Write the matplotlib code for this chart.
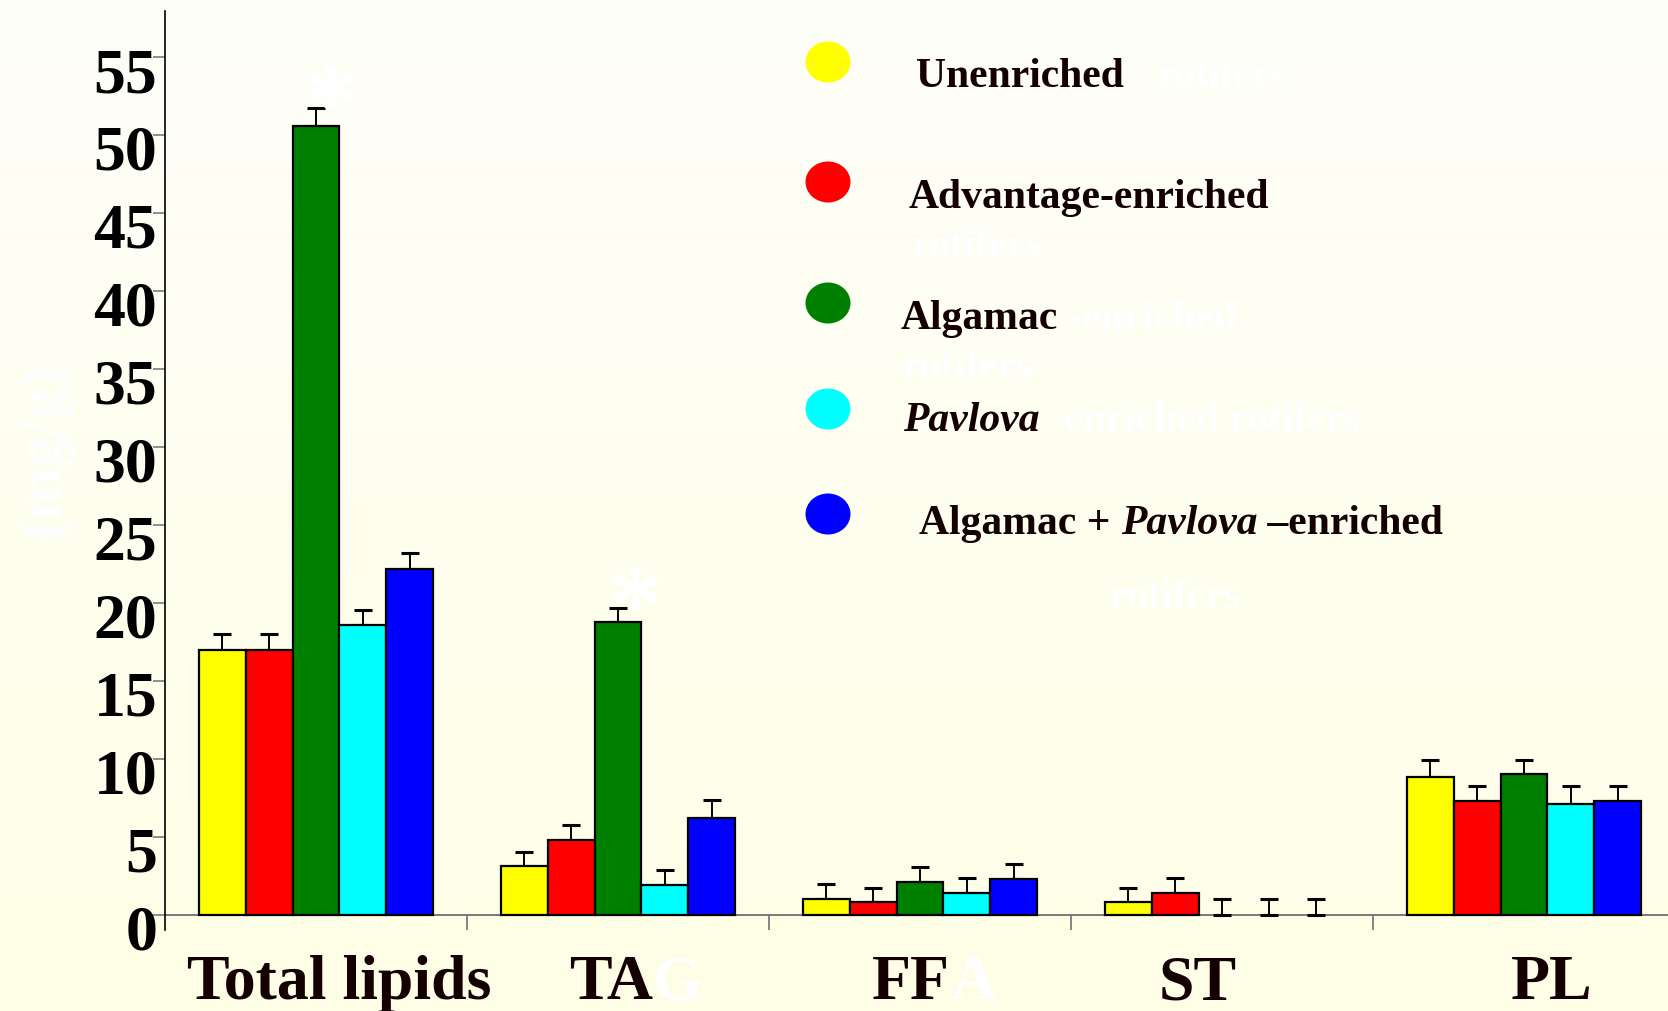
import numpy as np
import matplotlib
matplotlib.use('Agg')
import matplotlib.pyplot as plt
from matplotlib.patches import Ellipse
from matplotlib.transforms import ScaledTranslation

# ---------------- data ----------------
categories = ['Total lipids', 'TAG', 'FFA', 'ST', 'PL']
series_names = ['Unenriched', 'Advantage-enriched', 'Algamac', 'Pavlova',
                'Algamac + Pavlova –enriched']
series_colors = ['#ffff00', '#ff0000', '#008000', '#00ffff', '#0000ff']

unenriched = [17.0, 3.1, 1.0, 0.8, 8.8]
advantage = [17.0, 4.8, 0.8, 1.4, 7.3]
algamac = [50.6, 18.8, 2.1, 0.0, 9.0]
pavlova = [18.6, 1.9, 1.4, 0.0, 7.1]
algamac_pavlova = [22.2, 6.2, 2.3, 0.0, 7.3]

err_unenriched = [1.0, 0.95, 0.97, 0.93, 1.15]
err_advantage = [1.0, 0.97, 0.93, 0.96, 0.93]
err_algamac = [1.1, 0.9, 0.96, 0.98, 0.93]
err_pavlova = [0.97, 0.96, 0.94, 0.98, 1.13]
err_algamac_pavlova = [1.0, 1.15, 0.97, 0.98, 0.93]

y_ticks = [0, 5, 10, 15, 20, 25, 30, 35, 40, 45, 50, 55]

values = [unenriched, advantage, algamac, pavlova, algamac_pavlova]
errors = [err_unenriched, err_advantage, err_algamac, err_pavlova, err_algamac_pavlova]

# ---------------- figure ----------------
W, H = 1668, 1011
fig = plt.figure(figsize=(W / 100, H / 100), dpi=100)

# background gradient
bg = fig.add_axes([0, 0, 1, 1], zorder=0)
top = np.array([254, 254, 249]) / 255
bot = np.array([254, 254, 230]) / 255
t = np.linspace(0, 1, 256)[:, None]
grad = (top[None, :] * (1 - t) + bot[None, :] * t)[:, None, :]
bg.imshow(grad, aspect='auto', extent=[0, 1, 0, 1])
bg.axis('off')

SERIF = 'Liberation Serif'
DARK = '#140000'

ax = fig.add_axes([165 / W, 81 / H, 1 - 165 / W, 919 / H], zorder=1)
ax.patch.set_alpha(0)

x = np.arange(len(categories))
w = 0.155
for j, (vals, errs, col) in enumerate(zip(values, errors, series_colors)):
    xs = x + (j - 2) * w
    bars = ax.bar(xs, vals, width=w, color=col, edgecolor='black', linewidth=1.6, zorder=3)
    for b, v in zip(bars, vals):
        if v == 0:
            b.set_visible(False)
    ax.errorbar(xs, vals, yerr=[np.zeros(len(vals)), errs], fmt='none',
                ecolor='black', elinewidth=1.4, capsize=6.5, capthick=2.2, zorder=2)

ax.set_xlim(-0.5, 4.477)
ax.set_ylim(-0.98, 57.95)
ax.axhline(0, color='#707070', lw=1.3, zorder=1)
ax.vlines([0.5, 1.5, 2.5, 3.5], -0.98, 0, color='#707070', lw=1.2, zorder=1)

for s in ['top', 'right', 'bottom']:
    ax.spines[s].set_visible(False)
ax.spines['left'].set_color('black')
ax.spines['left'].set_linewidth(1.2)
ax.set_xticks([])
ax.set_yticks(y_ticks)
ax.set_yticklabels([str(v) for v in y_ticks])
ax.tick_params(axis='y', direction='out', length=8.6, width=1.1, color='#707070',
               pad=-3, labelsize=46)
for lab in ax.get_yticklabels():
    lab.set_fontfamily(SERIF)
    lab.set_fontweight('bold')
    lab.set_color('black')
    lab.set_transform(lab.get_transform() + ScaledTranslation(0, -13 / 100, fig.dpi_scale_trans))

# ---------------- overlay (pixel coordinates) ----------------
ov = fig.add_axes([0, 0, 1, 1], zorder=5)
ov.patch.set_alpha(0)
ov.set_xlim(0, W)
ov.set_ylim(H, 0)
ov.axis('off')

def txt(xp, yp, s, color=DARK, size=30, style='normal', ha='left'):
    return ov.text(xp, yp, s, fontfamily=SERIF, fontweight='bold', fontstyle=style,
                   fontsize=size, color=color, va='baseline', ha=ha)

def after(prev, s, color=DARK, size=30, style='normal'):
    return ov.annotate(s, xy=(1, 0), xycoords=prev, va='bottom', ha='left',
                       fontfamily=SERIF, fontweight='bold', fontstyle=style,
                       fontsize=size, color=color)

# category labels
base = 999
txt(339, base, categories[0], size=46, ha='center')
c1 = txt(569, base, 'TA', size=46)
after(c1, 'G', color='white', size=46)
c2 = txt(872, base, 'FF', size=46)
after(c2, 'A', color='white', size=46)
txt(1198, base, categories[3], size=46, ha='center')
txt(1552, base, categories[4], size=46, ha='center')

# hidden white y label
ov.text(43, 450, '(mg/g)', fontfamily=SERIF, fontweight='bold', fontsize=45,
        color='white', rotation=90, va='center', ha='center')

# white asterisks
ov.text(330, 112, '*', fontfamily=SERIF, fontweight='bold', fontsize=80,
        color='white', va='center', ha='center')
ov.text(635, 614, '*', fontfamily=SERIF, fontweight='bold', fontsize=80,
        color='white', va='center', ha='center')

# legend
circ_y = [62, 182, 303, 409, 514]
for cy, col in zip(circ_y, series_colors):
    ov.add_patch(Ellipse((828, cy), 45, 41, facecolor=col, edgecolor='none'))

txt(916, 87, series_names[0])
txt(1157, 87, 'rotifers', color='white')

txt(909, 208, series_names[1])
txt(912, 257, 'rotifers', color='white')

g1 = txt(901, 329, series_names[2])
after(g1, ' -enriched', color='white')
txt(903, 378, 'rotifers', color='white')

t1 = txt(903, 431, 'Pavlova', style='italic')
after(t1, ' -enriched rotifers', color='white')

a1 = txt(919, 534, 'Algamac + ')
a2 = after(a1, 'Pavlova', style='italic')
after(a2, ' –enriched')
txt(1110, 608, 'rotifers', color='white')

fig.savefig('out.png', dpi=100)
